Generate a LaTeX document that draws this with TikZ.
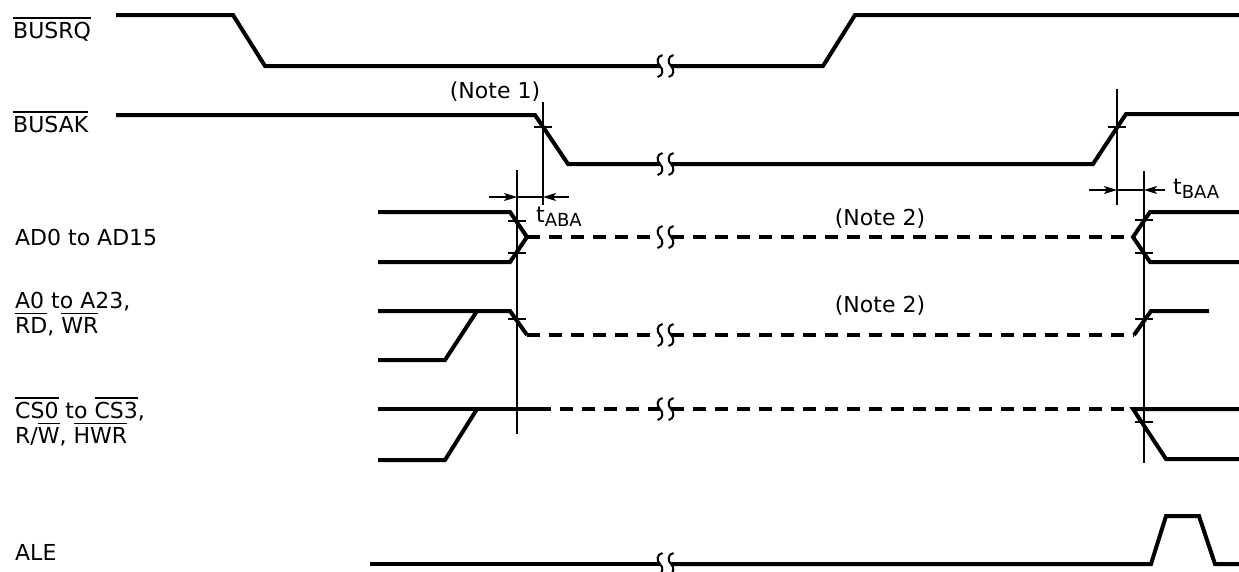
\documentclass[tikz,border=0pt]{standalone}
\usepackage{fontspec}
\setmainfont{DejaVu Sans}
\usetikzlibrary{positioning,arrows.meta}

\newcommand{\ovl}[1]{\leavevmode\setbox0\hbox{#1}\rlap{\rule[\dimexpr\ht0+3pt\relax]{\wd0}{1.3pt}}\box0\relax}
\newcommand{\tsub}[1]{t\raisebox{-4pt}{\fontsize{18}{18}\selectfont #1}}

\begin{document}
\begin{tikzpicture}[x=1pt,y=-1pt,
  every node/.style={inner sep=0pt,font=\fontsize{22}{25}\selectfont}]

\tikzstyle{sig}=[line width=4pt]
\tikzstyle{hiz}=[sig,dash pattern=on 13pt off 9pt]
\tikzstyle{thin}=[line width=1.3pt]
\tikzstyle{dimarr}=[thin,-{Stealth[length=13pt,width=8pt,inset=3pt]}]
\tikzset{brk/.pic={
  \draw[line width=2pt] (2.5,-11) .. controls (-3.5,-10) and (-3.5,-3) .. (0,0)
    .. controls (3.5,3) and (3.5,10) .. (-2.5,11);}}

\useasboundingbox (0,0) rectangle (1239,571);

% signal names
\node[anchor=base west] (busrq) at (13,38) {\ovl{BUSRQ}};
\node[anchor=base west] (busak) at (13,132) {\ovl{BUSAK}};
\node[anchor=base west] (ad) at (15,245) {AD0 to AD15};
\node[anchor=base west] (addr) at (15,308) {A0 to A23,};
\node[anchor=base west] (rdwr) at (15,333) {\ovl{RD}, \ovl{WR}};
\node[anchor=base west] (cs) at (15,418) {\ovl{CS0} to \ovl{CS3},};
\node[anchor=base west] (rw) at (15,443) {R/\ovl{W}, \ovl{HWR}};
\node[anchor=base west] (ale) at (15,560) {ALE};

% BUSRQ
\draw[sig] (116,15) -- (233,15) -- (265,66) -- (660,66);
\draw[sig] (671,66) -- (823,66) -- (855,15) -- (1239,15);
\pic at (660,66) {brk}; \pic at (671,66) {brk};

% BUSAK
\draw[sig] (116,115) -- (535,115) -- (568,164) -- (660,164);
\draw[sig] (671,164) -- (1093,164) -- (1126,114) -- (1239,114);
\pic at (660,164) {brk}; \pic at (671,164) {brk};

% AD0 to AD15
\draw[sig] (378,212) -- (510,212) -- (527,237);
\draw[sig] (378,262) -- (510,262) -- (527,237);
\draw[hiz] (527,237) -- (660,237);
\draw[hiz] (671,237) -- (1133,237);
\draw[sig] (1239,212) -- (1150,212) -- (1133,237) -- (1150,262) -- (1239,262);
\pic at (660,237) {brk}; \pic at (671,237) {brk};

% A0 to A23
\draw[sig] (378,311) -- (510,311) -- (527,335);
\draw[sig] (378,360) -- (445,360) -- (477,311);
\draw[hiz] (527,335) -- (660,335);
\draw[hiz] (671,335) -- (1134,335);
\draw[sig] (1134,335) -- (1151,311) -- (1209,311);
\pic at (660,335) {brk}; \pic at (671,335) {brk};

% CS0 to CS3
\draw[sig] (378,409) -- (538,409);
\draw[sig] (378,460) -- (445,460) -- (477,409);
\draw[hiz] (538,409) -- (660,409);
\draw[hiz] (671,409) -- (1133,409);
\draw[sig] (1239,409) -- (1133,409) -- (1166,459) -- (1239,459);
\pic at (660,409) {brk}; \pic at (671,409) {brk};

% ALE
\draw[sig] (370,564) -- (660,564);
\draw[sig] (671,564) -- (1151,564) -- (1166,516) -- (1199,516) -- (1215,564) -- (1239,564);
\pic at (660,564) {brk}; \pic at (671,564) {brk};

% reference lines
\coordinate (fa) at (543,102); \coordinate (fb) at (543,205);
\coordinate (fc) at (517,170); \coordinate (fd) at (517,434);
\coordinate (ra) at (1117,89); \coordinate (rb) at (1117,205);
\coordinate (rc) at (1144,171); \coordinate (rd) at (1144,463);
\draw[thin] (fa) -- (fb);
\draw[thin] (fc) -- (fd);
\draw[thin] (ra) -- (rb);
\draw[thin] (rc) -- (rd);

% crossing ticks
\foreach \x/\y in {543/127, 517/221, 517/253, 517/319, 1117/127, 1144/220, 1144/253, 1144/319, 1144/422}
  \draw[thin] (\x-9,\y) -- (\x+9,\y);

% timings
\coordinate (aba1) at (517,197); \coordinate (aba2) at (543,197);
\coordinate (baa1) at (1117,190); \coordinate (baa2) at (1144,190);
\draw[dimarr] (489,197) -- (aba1);
\draw[thin] (aba1) -- (aba2);
\draw[dimarr] (569,197) -- (aba2);
\draw[dimarr] (1089,190) -- (baa1);
\draw[thin] (baa1) -- (baa2);
\draw[dimarr] (1165,190) -- (baa2);
\node[anchor=base west] (taba) at (536,222) {\tsub{ABA}};
\node[anchor=base west] (tbaa) at (1173,194) {\tsub{BAA}};

% notes
\node[anchor=base] (note1) at (495,98) {(Note 1)};
\node[anchor=base] (note2a) at (880,225) {(Note 2)};
\node[anchor=base] (note2b) at (880,312) {(Note 2)};

\end{tikzpicture}
\end{document}
